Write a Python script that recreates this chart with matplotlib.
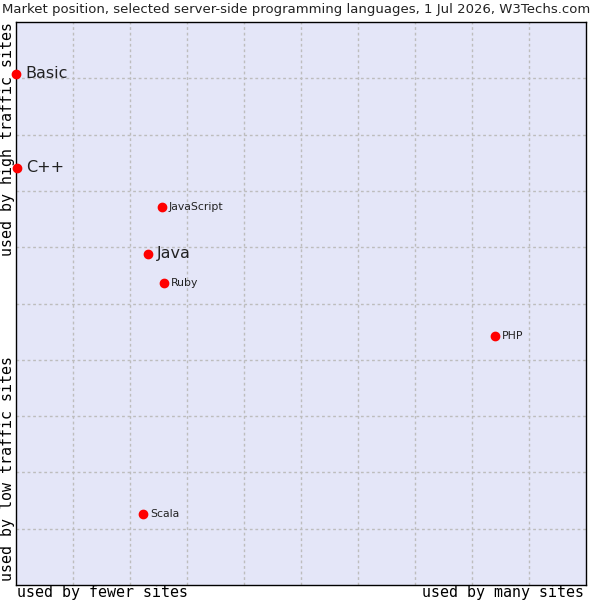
import matplotlib.pyplot as plt

languages = ["Basic", "C++", "JavaScript", "Java", "Ruby", "PHP", "Scala"]
popularity = [0.0, 0.02, 2.56, 2.32, 2.60, 8.40, 2.23]
traffic = [9.08, 7.41, 6.71, 5.88, 5.36, 4.42, 1.26]
highlighted = ["Basic", "C++", "Java"]

fig = plt.figure(figsize=(6, 6), dpi=100)
ax = fig.add_axes([16 / 600, 15 / 600, 570 / 600, 563 / 600])
ax.set_facecolor("#e4e6f8")
ax.set_xlim(0, 10)
ax.set_ylim(0, 10)
ax.set_xticks(range(1, 10))
ax.set_yticks(range(1, 10))
ax.tick_params(length=0, labelbottom=False, labelleft=False)
ax.grid(True, color="#bdbdbd", linestyle=(0, (2, 2)), linewidth=1)
for s in ax.spines.values():
    s.set_color("black")
    s.set_linewidth(1)

ax.plot(popularity, traffic, "o", color="red", markersize=6, clip_on=False, zorder=3)
for name, x, y in zip(languages, popularity, traffic):
    big = name in highlighted
    ax.annotate(name, (x, y), xytext=(6.5 if big else 5, 0), textcoords="offset points",
                va="center", ha="left", fontsize=11.5 if big else 7.8, color="#222222")

fig.text(0.003, 1 - 10 / 600, "Market position, selected server-side programming languages, 1 Jul 2026, W3Techs.com",
         ha="left", va="center", fontsize=9.5, color="#222222")

mono = dict(family="DejaVu Sans Mono", fontsize=10.8, color="black")
fig.text(17 / 600, 1 - 592 / 600, "used by fewer sites", ha="left", va="center", **mono)
fig.text(584 / 600, 1 - 592 / 600, "used by many sites", ha="right", va="center", **mono)
fig.text(8 / 600, 1 - 22 / 600, "used by high traffic sites", ha="center", va="top", rotation=90, **mono)
fig.text(8 / 600, 1 - 581 / 600, "used by low traffic sites", ha="center", va="bottom", rotation=90, **mono)

fig.savefig("out.png", dpi=100)
